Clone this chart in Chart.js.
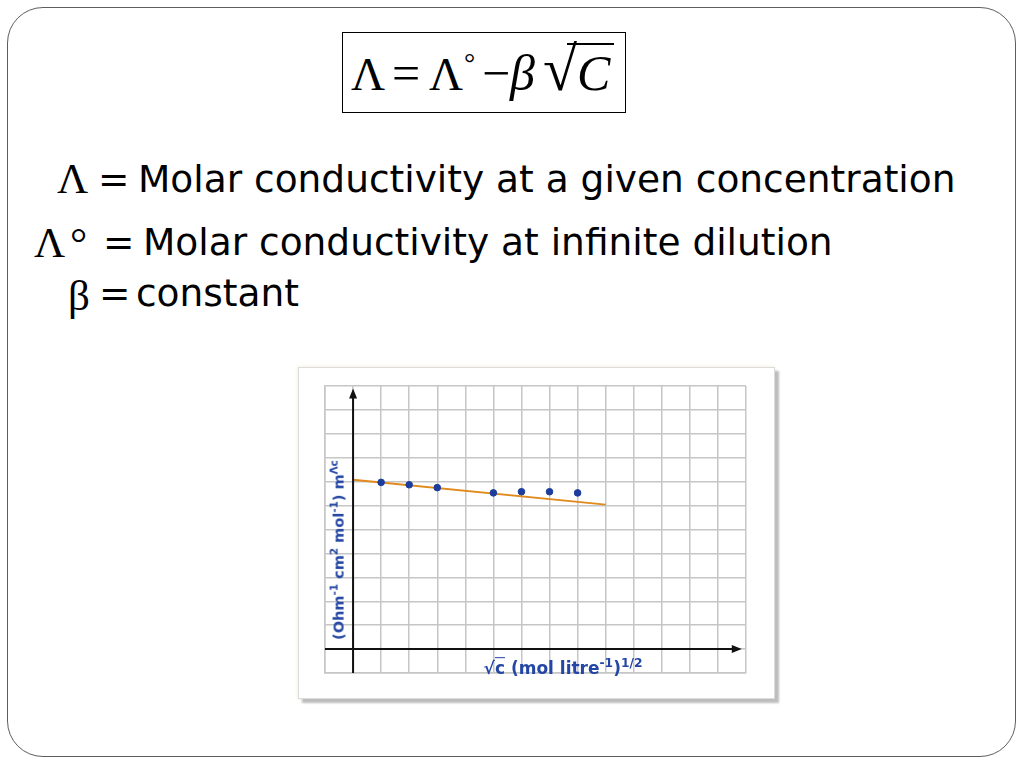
<!DOCTYPE html>
<html>
<head>
<meta charset="utf-8">
<script src="https://cdn.jsdelivr.net/npm/chart.js@4.4.1/dist/chart.umd.min.js"></script>
<style>
  html, body { margin: 0; padding: 0; background: #fff; }
  body { width: 1024px; height: 768px; position: relative; overflow: hidden; }
  .slide { position: absolute; left: 7px; top: 7px; width: 1007px; height: 748px;
           border: 1.5px solid #5e5e5e; border-radius: 36px; }
  .t { position: absolute; white-space: nowrap; line-height: 1; color: #000; }
  .sans { font-family: "DejaVu Sans", sans-serif; font-size: 37.5px; }
  .serif { font-family: "Liberation Serif", serif; }
  .box { position: absolute; left: 342px; top: 32px; width: 282px; height: 79px; border: 1.3px solid #000; }
  .frame { position: absolute; left: 298px; top: 367px; width: 475px; height: 330px; background: #fff;
           border: 1px solid #dcdcdc; box-shadow: 4px 4px 2px #bdbdbd, 0 0 4px #f1ead2; }
  #chartWrap { position: absolute; left: 320px; top: 381px; }
  .lbl { position: absolute; white-space: nowrap; color: #2446a4; font-family: "DejaVu Sans", sans-serif;
         font-weight: bold; }
  .lbl sup { font-size: 72%; }
</style>
</head>
<body>
<div class="slide"></div>

<!-- formula -->
<div class="box"></div>
<span class="t serif" style="font-size:47px; left:351px; top:51px;">Λ</span>
<span class="t serif" style="font-size:50px; left:392px; top:48px;">=</span>
<span class="t serif" style="font-size:47px; left:429px; top:51px;">Λ</span>
<span class="t serif" style="font-size:28px; left:464px; top:49px;">°</span>
<span class="t serif" style="font-size:50px; left:482px; top:48px;">−</span>
<span class="t serif" style="font-size:50px; left:510px; top:48px; font-style:italic;">β</span>
<span class="t serif" style="font-size:62px; left:543px; top:38px; letter-spacing:-6px;">√</span>
<div style="position:absolute; left:567px; top:43px; width:47px; height:2px; background:#000;"></div>
<span class="t serif" style="font-size:50px; left:577px; top:48px; font-style:italic;">C</span>

<!-- definitions -->
<span class="t serif" style="font-size:43px; left:57px; top:157px;">Λ</span>
<span class="t sans" style="left:98px; top:161px;">=</span>
<span class="t sans" style="left:138px; top:161px;">Molar conductivity at a given concentration</span>

<span class="t serif" style="font-size:43px; left:34px; top:221px;">Λ</span>
<span class="t serif" style="font-size:43px; left:70px; top:221px;">°</span>
<span class="t sans" style="left:103px; top:224px;">=</span>
<span class="t sans" style="left:143px; top:224px;">Molar conductivity at infinite dilution</span>

<span class="t serif" style="font-size:43px; left:68px; top:274px;">β</span>
<span class="t sans" style="left:99px; top:275px;">=</span>
<span class="t sans" style="left:136px; top:275px;">constant</span>

<!-- graph picture -->
<div class="frame"></div>
<div id="chartWrap"><canvas id="graph" width="431" height="297"></canvas></div>
<div class="lbl" style="left:337px; top:550px; font-size:14.5px; transform: translate(-50%,-50%) rotate(-90deg);">(Ohm<sup>-1</sup> cm<sup>2</sup> mol<sup>-1</sup>) m<sup>Λc</sup></div>
<div class="lbl" style="left:563px; top:667px; font-size:17px; transform: translate(-50%,-50%);">√<span style="text-decoration:overline;">c</span> (mol litre<sup>-1</sup>)<sup>1/2</sup></div>

<script>
// measured points, sqrt(c) vs molar conductivity (grid units)
const sqrtC = [1, 2, 3, 5, 6, 7, 8];
const molarCond = [6.97, 6.87, 6.75, 6.53, 6.58, 6.58, 6.53];
// straight line drawn through them
const fitX = [0, 9];
const fitY = [7.08, 6.04];
// graph paper extent
const xRange = [-1, 14];
const yRange = [-1, 11];
const xAxisEnd = 13.85;
const yAxisEnd = 10.9;

// black axes with arrow heads
const axesArrows = {
  id: 'axesArrows',
  afterDatasetsDraw(chart) {
    const { ctx, scales: { x, y } } = chart;
    const x0 = x.getPixelForValue(0), y0 = y.getPixelForValue(0);
    const xl = x.getPixelForValue(xRange[0]), xe = x.getPixelForValue(xAxisEnd);
    const yb = y.getPixelForValue(yRange[0]), ye = y.getPixelForValue(yAxisEnd);
    ctx.save();
    ctx.strokeStyle = '#111';
    ctx.fillStyle = '#111';
    ctx.lineWidth = 2;
    ctx.beginPath();
    ctx.moveTo(xl, y0); ctx.lineTo(xe - 6, y0);
    ctx.moveTo(x0, yb); ctx.lineTo(x0, ye + 6);
    ctx.stroke();
    ctx.beginPath();
    ctx.moveTo(xe, y0); ctx.lineTo(xe - 10, y0 - 4); ctx.lineTo(xe - 10, y0 + 4); ctx.closePath();
    ctx.moveTo(x0, ye); ctx.lineTo(x0 - 4, ye + 10); ctx.lineTo(x0 + 4, ye + 10); ctx.closePath();
    ctx.fill();
    ctx.restore();
  }
};

const ctx = document.getElementById('graph').getContext('2d');
const graph = new Chart(ctx, {
  type: 'scatter',
  data: {
    datasets: [
      {
        label: 'fit',
        data: fitX.map((v, i) => ({ x: v, y: fitY[i] })),
        showLine: true,
        borderColor: '#e08a1c',
        borderWidth: 2,
        pointRadius: 0,
        order: 2
      },
      {
        label: 'measured',
        data: sqrtC.map((v, i) => ({ x: v, y: molarCond[i] })),
        backgroundColor: '#1c3d9c',
        borderColor: '#1c3d9c',
        pointRadius: 3.3,
        order: 1
      }
    ]
  },
  options: {
    responsive: false,
    animation: false,
    layout: { padding: 2 },
    plugins: { legend: { display: false }, tooltip: { enabled: false } },
    scales: {
      x: {
        type: 'linear', min: xRange[0], max: xRange[1],
        ticks: { display: false, stepSize: 1 },
        grid: { color: '#c6c6c6', lineWidth: 1.5, drawTicks: false },
        border: { display: true, color: '#c6c6c6', width: 1.5 }
      },
      y: {
        type: 'linear', min: yRange[0], max: yRange[1],
        ticks: { display: false, stepSize: 1 },
        grid: { color: '#c6c6c6', lineWidth: 1.5, drawTicks: false },
        border: { display: true, color: '#c6c6c6', width: 1.5 }
      }
    }
  },
  plugins: [axesArrows]
});
</script>
</body>
</html>
